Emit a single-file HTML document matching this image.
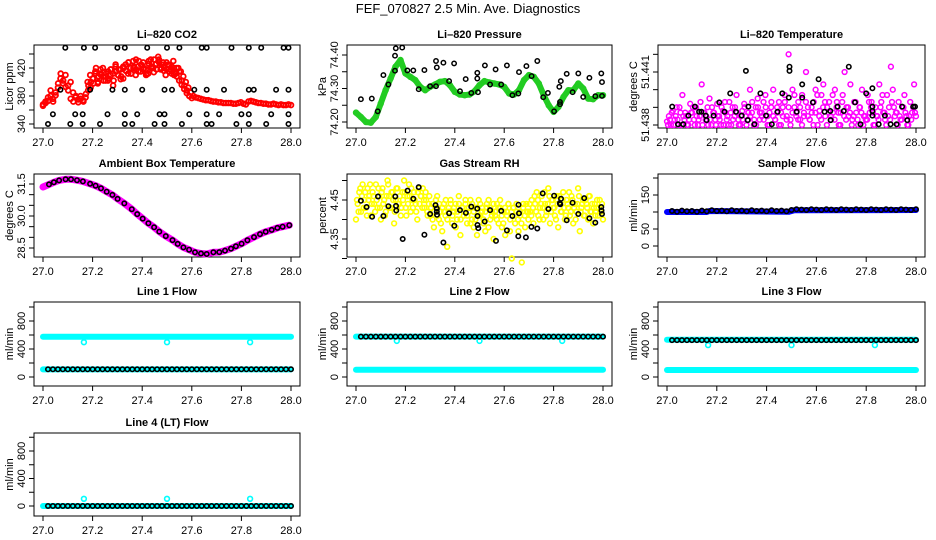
<!DOCTYPE html>
<html><head><meta charset="utf-8"><style>
html,body{margin:0;padding:0;background:#fff;}
svg{display:block;font-family:"Liberation Sans",Arial,sans-serif;}
</style></head><body>
<svg id="chart" width="936" height="540" viewBox="0 0 936 540">
<rect width="936" height="540" fill="#fff"/>
<text x="468" y="13" text-anchor="middle" font-size="13">FEF_070827  2.5 Min. Ave. Diagnostics</text>
</svg>
<script>
// ---------- DATA ----------
const xTickLabels = ["27.0","27.2","27.4","27.6","27.8","28.0"];
const xTicks = [27.0,27.2,27.4,27.6,27.8,28.0];

const co2Red = [368,370,373,380,376,385,392,405,398,410,395,400,385,378,375,380,374,378,388,392,405,412,400,418,408,402,415,410,395,422,410,418,405,425,412,420,430,410,422,415,428,418,412,432,420,425,436,418,428,410,425,418,430,412,420,415,408,400,392,385,380,378,377,376,375,374,374,373,372,372,371,371,370,370,370,370,369,369,370,371,369,368,372,373,372,371,370,370,369,369,368,368,369,368,367,368,367,367,368,367];
const co2Red2 = [366,372,378,388,372,381,398,412,402,393,388,376,372,380,371,376,372,383,395,400,398,420,408,410,402,412,405,418,402,415,418,408,420,416,428,412,422,418,430,424,420,412,426,420,432,418,428,425,420,418,415,422,410,420,402,396,390,384,380,377];
const co2Red3 = [400,410,405,415,398,412,420,408,402,418,412,425,410,404,422,416,428,412,420,432,415,425,418,410,430,422,414,426,432,420,416,428,424,412,420,408,415,402,395,388];
const co2BlackT = [27.09,27.165,27.21,27.30,27.33,27.42,27.50,27.55,27.64,27.66,27.76,27.83,27.88,27.97,27.99,
 27.07,27.19,27.28,27.33,27.40,27.49,27.52,27.61,27.66,27.73,27.83,27.85,27.94,27.99,
 27.04,27.13,27.16,27.26,27.33,27.38,27.47,27.49,27.59,27.66,27.71,27.80,27.83,27.92,27.99,
 27.02,27.11,27.16,27.23,27.33,27.36,27.45,27.49,27.56,27.66,27.68,27.78,27.83,27.90,27.99];
const co2BlackV = [449,449,449,449,449,449,449,449,449,449,449,449,449,449,449,
 389,389,389,389,389,389,389,389,389,389,389,389,389,389,
 354,354,354,354,354,354,354,354,354,354,354,354,354,354,354,
 340,340,340,340,340,340,340,340,340,340,340,340,340,340,340];

const presGreen = [74.228,74.215,74.200,74.198,74.215,74.255,74.295,74.330,74.365,74.385,74.345,74.335,74.325,74.305,74.295,74.305,74.312,74.320,74.322,74.310,74.290,74.282,74.280,74.282,74.292,74.310,74.322,74.318,74.315,74.312,74.305,74.285,74.282,74.295,74.325,74.340,74.335,74.315,74.280,74.250,74.230,74.245,74.275,74.295,74.295,74.315,74.300,74.270,74.268,74.280,74.280];
const presBlackT = [27.020,27.064,27.088,27.111,27.131,27.158,27.161,27.187,27.158,27.208,27.232,27.254,27.277,27.300,27.324,27.324,27.327,27.354,27.377,27.397,27.421,27.444,27.467,27.491,27.494,27.491,27.522,27.543,27.565,27.588,27.611,27.633,27.657,27.660,27.690,27.711,27.734,27.758,27.777,27.802,27.826,27.826,27.823,27.829,27.853,27.877,27.900,27.920,27.945,27.969,27.993,27.996,27.996];
const presBlackV = [74.268,74.270,74.232,74.340,74.312,74.353,74.420,74.422,74.398,74.354,74.354,74.298,74.355,74.307,74.307,74.382,74.363,74.377,74.322,74.375,74.292,74.328,74.287,74.330,74.289,74.347,74.369,74.312,74.357,74.312,74.369,74.280,74.285,74.349,74.367,74.337,74.382,74.274,74.287,74.232,74.260,74.253,74.305,74.322,74.344,74.289,74.345,74.275,74.332,74.277,74.345,74.278,74.319];

const tempPink = [51.4382,51.4385,51.4380,51.4388,51.4383,51.4390,51.4380,51.4387,51.4397,51.4383,
51.4385,51.4380,51.4392,51.4387,51.4383,51.4390,51.4380,51.4385,51.4403,51.4387,
51.4383,51.4390,51.4395,51.4380,51.4387,51.4383,51.4392,51.4385,51.4380,51.4388,
51.4393,51.4383,51.4380,51.4387,51.4390,51.4385,51.4397,51.4383,51.4380,51.4388,
51.4392,51.4385,51.4383,51.4400,51.4387,51.4380,51.4390,51.4395,51.4383,51.4387,
51.4393,51.4397,51.4385,51.4380,51.4390,51.4400,51.4383,51.4387,51.4393,51.4380,
51.4390,51.4397,51.4385,51.4420,51.4383,51.4400,51.4390,51.4387,51.4393,51.4383,
51.4397,51.4385,51.4410,51.4390,51.4383,51.4387,51.4393,51.4400,51.4380,51.4388,
51.4397,51.4403,51.4385,51.4390,51.4393,51.4383,51.4387,51.4400,51.4393,51.4380,
51.4387,51.4397,51.4410,51.4390,51.4385,51.4403,51.4383,51.4393,51.4387,51.4380,
51.4390,51.4400,51.4385,51.4383,51.4397,51.4387,51.4393,51.4380,51.4390,51.4385,
51.4403,51.4393,51.4387,51.4383,51.4397,51.4390,51.4413,51.4400,51.4385,51.4387,
51.4393,51.4383,51.4390,51.4397,51.4385,51.4380,51.4393,51.4387,51.4403,51.4385];
const tempPink2 = [51.4380,51.4383,51.4387,51.4380,51.4385,51.4383,51.4390,51.4380,51.4385,51.4387,
51.4380,51.4383,51.4387,51.4390,51.4380,51.4385,51.4383,51.4393,51.4380,51.4387,
51.4385,51.4380,51.4383,51.4390,51.4387,51.4380,51.4385,51.4383,51.4390,51.4380,
51.4387,51.4385,51.4393,51.4380,51.4383,51.4390,51.4387,51.4380,51.4385,51.4383,
51.4390,51.4380,51.4387,51.4385,51.4393,51.4383,51.4380,51.4390,51.4387,51.4385,
51.4383,51.4390,51.4380,51.4387,51.4393,51.4385,51.4383,51.4390,51.4380,51.4387,
51.4385,51.4393,51.4383,51.4390,51.4380,51.4387,51.4397,51.4385,51.4383,51.4390,
51.4380,51.4387,51.4393,51.4385,51.4383,51.4390,51.4380,51.4387,51.4397,51.4385,
51.4383,51.4390,51.4393,51.4380,51.4387,51.4385,51.4397,51.4383,51.4390,51.4387,
51.4380,51.4393,51.4385,51.4383,51.4390,51.4387,51.4380,51.4385,51.4393,51.4383,
51.4390,51.4387,51.4380,51.4385,51.4383,51.4393,51.4390,51.4387,51.4380,51.4385,
51.4383,51.4390,51.4397,51.4387,51.4380,51.4385,51.4383,51.4393,51.4390,51.4387,
51.4380,51.4385,51.4383,51.4390,51.4387,51.4380,51.4385,51.4383,51.4390,51.4387];
const tempBlackT = [27.021,27.044,27.065,27.086,27.112,27.129,27.138,27.156,27.159,27.187,27.210,27.231,27.254,27.277,27.300,27.317,27.324,27.327,27.351,27.375,27.398,27.421,27.444,27.463,27.492,27.492,27.489,27.521,27.543,27.543,27.586,27.609,27.633,27.656,27.657,27.685,27.710,27.730,27.755,27.777,27.800,27.825,27.825,27.825,27.825,27.850,27.875,27.898,27.922,27.944,27.965,27.989,27.996];
const tempBlackV = [51.43904,51.43804,51.43804,51.43853,51.43904,51.43875,51.43875,51.43853,51.43828,51.43853,51.43928,51.43875,51.43979,51.43875,51.43853,51.44106,51.43828,51.43904,51.43804,51.43979,51.43853,51.43804,51.43875,51.43979,51.44106,51.44130,51.43955,51.43875,51.43955,51.44030,51.43928,51.44059,51.43875,51.43879,51.43828,51.43904,51.43879,51.44130,51.43928,51.43804,51.43979,51.44008,51.43904,51.43879,51.43853,51.43804,51.43853,51.43804,51.43804,51.43904,51.43828,51.43904,51.43904];

const ambPinkT = [27.0,27.024,27.044,27.065,27.091,27.113,27.137,27.161,27.190,27.212,27.234,27.257,27.280,27.301,27.328,27.358,27.380,27.402,27.425,27.448,27.469,27.495,27.522,27.543,27.566,27.589,27.613,27.637,27.660,27.687,27.711,27.734,27.758,27.778,27.801,27.824,27.851,27.875,27.898,27.922,27.945,27.966,27.993];
const ambPinkV = [31.36,31.48,31.58,31.67,31.72,31.72,31.68,31.62,31.51,31.42,31.30,31.14,30.99,30.80,30.59,30.32,30.09,29.88,29.66,29.47,29.27,29.06,28.87,28.69,28.53,28.42,28.30,28.24,28.22,28.30,28.31,28.38,28.47,28.58,28.70,28.86,29.01,29.15,29.26,29.35,29.44,29.50,29.57];
const ambBlackT = [27.024,27.044,27.065,27.091,27.113,27.137,27.161,27.190,27.212,27.234,27.257,27.280,27.301,27.328,27.358,27.380,27.402,27.425,27.448,27.469,27.495,27.522,27.543,27.566,27.589,27.613,27.637,27.660,27.687,27.711,27.734,27.758,27.778,27.801,27.824,27.851,27.875,27.898,27.922,27.945,27.966,27.993];
const ambBlackV = [31.48,31.58,31.67,31.72,31.72,31.68,31.62,31.51,31.42,31.30,31.14,30.99,30.80,30.59,30.32,30.09,29.88,29.66,29.47,29.27,29.06,28.87,28.69,28.53,28.42,28.30,28.24,28.22,28.30,28.31,28.38,28.47,28.58,28.70,28.86,29.01,29.15,29.26,29.35,29.44,29.50,29.57];

const rhYellow = [4.40,4.44,4.47,4.42,4.49,4.45,4.43,4.48,4.46,4.41,
4.47,4.44,4.49,4.43,4.46,4.40,4.48,4.45,4.42,4.50,
4.46,4.43,4.47,4.39,4.45,4.48,4.44,4.41,4.47,4.50,
4.43,4.46,4.49,4.42,4.45,4.47,4.44,4.40,4.48,4.46,
4.43,4.45,4.47,4.42,4.44,
4.41,4.44,4.38,4.43,4.46,4.40,4.42,4.37,4.44,4.41,
4.33,4.43,4.45,4.39,4.42,4.44,4.40,4.46,4.36,4.43,
4.41,4.44,4.39,4.42,4.45,4.40,4.38,4.43,4.36,4.41,
4.44,4.42,4.39,4.37,4.43,4.45,4.40,4.42,4.35,4.41,
4.44,4.39,4.43,4.38,4.42,4.36,4.41,4.44,4.40,4.30,
4.43,4.39,4.42,4.37,4.41,4.29,4.44,4.38,4.42,4.40,
4.42,4.45,4.39,4.44,4.47,4.41,4.43,4.46,4.40,4.44,
4.42,4.48,4.39,4.45,4.43,4.41,4.46,4.38,4.44,4.42,
4.47,4.40,4.45,4.43,4.41,4.46,4.39,4.44,4.42,4.48,
4.37,4.43,4.45,4.41,4.44,4.40,4.46,4.42,4.39,4.44,
4.43,4.41,4.45,4.42,4.40];
const rhYellow2 = [4.45,4.42,4.48,4.46,4.43,4.47,4.41,4.45,4.49,4.44,
4.46,4.42,4.45,4.48,4.43,4.47,4.44,4.41,4.46,4.49,
4.43,4.47,4.45,4.42,4.48,4.44,4.46,4.43,4.45,4.47,
4.41,4.44,4.46,4.48,4.43,4.45,4.42,4.47,4.44,4.46,
4.48,4.43,4.45,4.41,4.46,
4.43,4.40,4.42,4.45,4.41,4.44,4.39,4.43,4.42,4.45,
4.40,4.42,4.44,4.41,4.43,4.38,4.42,4.44,4.40,4.43,
4.42,4.45,4.41,4.43,4.39,4.44,4.42,4.40,4.43,4.45,
4.41,4.43,4.40,4.42,4.44,4.38,4.43,4.41,4.44,4.42,
4.40,4.43,4.45,4.41,4.39,4.43,4.42,4.44,4.37,4.42,
4.43,4.41,4.44,4.40,4.42,4.39,4.43,4.41,4.44,4.42,
4.44,4.41,4.43,4.46,4.42,4.45,4.40,4.44,4.43,4.47,
4.41,4.44,4.46,4.42,4.45,4.43,4.40,4.44,4.46,4.42,
4.45,4.43,4.41,4.44,4.47,4.42,4.45,4.43,4.40,4.44,
4.46,4.42,4.44,4.41,4.45,4.43,4.46,4.42,4.44,4.43,
4.41,4.45,4.43,4.42,4.44];
const rhBlackT = [27.020,27.043,27.065,27.089,27.111,27.131,27.159,27.162,27.163,27.189,27.209,27.232,27.254,27.277,27.300,27.322,27.327,27.327,27.328,27.354,27.377,27.398,27.421,27.445,27.467,27.491,27.492,27.492,27.495,27.521,27.543,27.567,27.588,27.611,27.633,27.658,27.660,27.657,27.688,27.710,27.734,27.756,27.779,27.802,27.825,27.827,27.830,27.853,27.877,27.900,27.924,27.945,27.969,27.993,27.994,27.996];
const rhBlackV = [4.448,4.432,4.407,4.459,4.409,4.434,4.459,4.435,4.423,4.350,4.474,4.453,4.483,4.361,4.414,4.437,4.428,4.420,4.412,4.341,4.416,4.384,4.424,4.417,4.433,4.428,4.409,4.386,4.378,4.395,4.424,4.345,4.422,4.372,4.409,4.438,4.416,4.357,4.354,4.381,4.377,4.467,4.427,4.461,4.442,4.439,4.453,4.398,4.443,4.414,4.455,4.403,4.392,4.432,4.423,4.414];

const flowT = [27.02,27.04,27.06,27.08,27.10,27.12,27.14,27.16,27.18,27.20,27.22,27.24,27.26,27.28,27.30,27.32,27.34,27.36,27.38,27.40,27.42,27.44,27.46,27.48,27.50,27.52,27.54,27.56,27.58,27.60,27.62,27.64,27.66,27.68,27.70,27.72,27.74,27.76,27.78,27.80,27.82,27.84,27.86,27.88,27.90,27.92,27.94,27.96,27.98,28.00];
const sampleBlack = [103,101,104,102,103,101,104,102,105,103,104,102,105,103,104,102,105,103,104,102,105,103,104,102,106,108,107,106,108,107,106,108,107,106,108,107,106,108,107,106,108,107,106,108,107,106,108,107,106,108];
const sampleBlueT = [27.0,27.16,27.17,27.49,27.51,28.0];
const sampleBlueV = [100,100,103,101,105,106];

const line1Black = [110,110,110,110,110,110,110,110,110,110,110,110,110,110,110,110,110,110,110,110,110,110,110,110,110,110,110,110,110,110,110,110,110,110,110,110,110,110,110,110,110,110,110,110,110,110,110,110,110,110];
const line2Black = [577,577,577,577,577,577,577,577,577,577,577,577,577,577,577,577,577,577,577,577,577,577,577,577,577,577,577,577,577,577,577,577,577,577,577,577,577,577,577,577,577,577,577,577,577,577,577,577,577,577];
const line3Black = [527,527,527,527,527,527,527,527,527,527,527,527,527,527,527,527,527,527,527,527,527,527,527,527,527,527,527,527,527,527,527,527,527,527,527,527,527,527,527,527,527,527,527,527,527,527,527,527,527,527];
const line4Black = [0,0,0,0,0,0,0,0,0,0,0,0,0,0,0,0,0,0,0,0,0,0,0,0,0,0,0,0,0,0,0,0,0,0,0,0,0,0,0,0,0,0,0,0,0,0,0,0,0,0];
const bandT = [27.0,28.0];
const line1High = [575,575], line1Low = [108,108];
const line2High = [577,577], line2Low = [103,103];
const line3High = [532,532], line3Low = [100,100];
const line4Band = [0,0];
const dipT = [27.165,27.5,27.835];
const line1Dip = [497,497,497];
const line2Dip = [515,515,515];
const line3Dip = [455,455,455];
const line4Dip = [105,105,105];

// ---------- LAYOUT ----------
const panels = [
 {key:'co2',title:'Li\u2013820 CO2',ylab:'Licor ppm',L:34,R:300,T:45,B:128,v1:340,p1:124,v2:420,p2:68,ticks:[340,360,380,400,420,440],labels:{0:'340',2:'380',4:'420'}},
 {key:'pressure',title:'Li\u2013820 Pressure',ylab:'kPa',L:347,R:612,T:45,B:128,v1:74.20,p1:122,v2:74.40,p2:55,ticks:[74.20,74.25,74.30,74.35,74.40],labels:{0:'74.20',2:'74.30',4:'74.40'}},
 {key:'temperature',title:'Li\u2013820 Temperature',ylab:'degrees C',L:658,R:925,T:45,B:128,v1:51.438,p1:125,v2:51.441,p2:72,ticks:[51.438,51.439,51.440,51.441,51.442],labels:{0:'51.438',3:'51.441'}},
 {key:'ambient',title:'Ambient Box Temperature',ylab:'degrees C',L:34,R:300,T:174,B:257,v1:28.5,p1:248,v2:31.5,p2:184,ticks:[28.5,29.0,29.5,30.0,30.5,31.0,31.5],labels:{0:'28.5',3:'30.0',6:'31.5'}},
 {key:'rh',title:'Gas Stream RH',ylab:'percent',L:347,R:612,T:174,B:257,v1:4.35,p1:239,v2:4.45,p2:200,ticks:[4.30,4.35,4.40,4.45,4.50],labels:{1:'4.35',3:'4.45'}},
 {key:'sample',title:'Sample Flow',ylab:'ml/min',L:658,R:925,T:174,B:257,v1:0,p1:246,v2:150,p2:195,ticks:[0,50,100,150,200],labels:{0:'0',1:'50',3:'150'}},
 {key:'line1',title:'Line 1 Flow',ylab:'ml/min',L:34,R:300,T:302,B:386,v1:0,p1:377,v2:800,p2:321,ticks:[0,200,400,600,800,1000],labels:{0:'0',2:'400',4:'800'}},
 {key:'line2',title:'Line 2 Flow',ylab:'ml/min',L:347,R:612,T:302,B:386,v1:0,p1:377,v2:800,p2:321,ticks:[0,200,400,600,800,1000],labels:{0:'0',2:'400',4:'800'}},
 {key:'line3',title:'Line 3 Flow',ylab:'ml/min',L:658,R:925,T:302,B:386,v1:0,p1:377,v2:800,p2:321,ticks:[0,200,400,600,800,1000],labels:{0:'0',2:'400',4:'800'}},
 {key:'line4',title:'Line 4 (LT) Flow',ylab:'ml/min',L:34,R:300,T:433,B:516,v1:0,p1:506,v2:800,p2:451,ticks:[0,200,400,600,800,1000],labels:{0:'0',2:'400',4:'800'}}
];

const NS='http://www.w3.org/2000/svg';
const svg=document.getElementById('chart');
function mk(tag,attrs,parent){const e=document.createElementNS(NS,tag);for(const k in attrs)e.setAttribute(k,attrs[k]);(parent||svg).appendChild(e);return e;}

function setup(p){
  p.xs=t=>p.L+9+(t-27)*(p.R-p.L-18);
  p.ys=v=>p.p1+(v-p.v1)*(p.p2-p.p1)/(p.v2-p.v1);
  const g=mk('g',{});
  
  
  p.g=g;
  const box=mk('rect',{x:p.L,y:p.T,width:p.R-p.L,height:p.B-p.T,fill:'none',stroke:'#000','stroke-width':1},g);
  
  
  const title=mk('text',{x:(p.L+p.R)/2,y:p.T-7,'text-anchor':'middle','font-size':11,'font-weight':'bold'},g);
  title.textContent=p.title;
  
  
  xTicks.forEach((t,i)=>{
    const x=p.xs(t);
    const tk=mk('line',{x1:x,x2:x,y1:p.B,y2:p.B+5,stroke:'#000'},g);
    
    
    const lb=mk('text',{x:x,y:p.B+18,'text-anchor':'middle','font-size':11},g);
    lb.textContent=xTickLabels[i];
    
    
  });
  p.ticks.forEach((v,i)=>{
    const y=p.ys(v);
    const tk=mk('line',{x1:p.L-5,x2:p.L,y1:y,y2:y,stroke:'#000'},g);
    
    
    const txt=p.labels[i];
    if(txt){
      const lb=mk('text',{x:0,y:0,'text-anchor':'middle','font-size':11,transform:`translate(${p.L-9},${y}) rotate(-90)`},g);
      lb.textContent=txt;
      
      
    }
  });
  const yt=mk('text',{x:0,y:0,'text-anchor':'middle','font-size':11,transform:`translate(${p.L-21},${(p.T+p.B)/2}) rotate(-90)`},g);
  yt.textContent=p.ylab;
  
  
}
// ts: explicit times, or null to spread evenly over [t0,t1]
function dots(p,ts,vs,color,r,sw,name,t0,t1){
  if(t0===undefined){t0=27;t1=28;}
  const g=mk('g',{fill:'none',stroke:color,'stroke-width':sw},p.g);
  
  
  for(let i=0;i<vs.length;i++){
    const t=ts?ts[i]:t0+i*(t1-t0)/(vs.length-1);
    const c=mk('circle',{cx:p.xs(t).toFixed(1),cy:p.ys(vs[i]).toFixed(1),r:r},g);
    
    
  }
}
function band(p,ts,vs,color,w,name){
  const pts=vs.map((v,i)=>{const t=ts?ts[i]:27+i/(vs.length-1);return p.xs(t).toFixed(1)+','+p.ys(v).toFixed(1);}).join(' ');
  const pl=mk('polyline',{points:pts,fill:'none',stroke:color,'stroke-width':w,'stroke-linejoin':'round','stroke-linecap':'round'},p.g);
  
  
}
panels.forEach(setup);
const P={};panels.forEach(p=>P[p.key]=p);

// CO2
dots(P.co2,null,co2Red,'#ff0000',2.4,1.8,'co2-series');
dots(P.co2,null,co2Red2,'#ff0000',2.4,1.8,'co2-series-b',27.0,27.6);
dots(P.co2,null,co2Red3,'#ff0000',2.4,1.8,'co2-series-c',27.18,27.58);
dots(P.co2,co2BlackT,co2BlackV,'#000',2.2,1.6,'co2-avg-series');
// Pressure
band(P.pressure,null,presGreen,'#22cc22',6,'pressure-band');
dots(P.pressure,null,presGreen,'#22cc22',2.4,1.6,'pressure-series');
dots(P.pressure,presBlackT,presBlackV,'#000',2.2,1.5,'pressure-avg-series');
// Temperature
dots(P.temperature,null,tempPink,'#ff00ff',2.4,1.5,'temperature-series');
dots(P.temperature,null,tempPink2,'#ff00ff',2.4,1.5,'temperature-series-b',27.004,27.996);
dots(P.temperature,tempBlackT,tempBlackV,'#000',2.2,1.6,'temperature-avg-series');
// Ambient
band(P.ambient,ambPinkT,ambPinkV,'#ff00ff',7,'ambient-series');
dots(P.ambient,ambBlackT,ambBlackV,'#000',2.2,1.6,'ambient-avg-series');
// RH
dots(P.rh,null,rhYellow,'#ffff00',2.4,1.6,'rh-series');
dots(P.rh,null,rhYellow2,'#ffff00',2.4,1.6,'rh-series-b',27.004,27.996);
dots(P.rh,rhBlackT,rhBlackV,'#000',2.2,1.6,'rh-avg-series');
// Sample
band(P.sample,sampleBlueT,sampleBlueV,'#0000ff',6,'sample-flow-series');
dots(P.sample,flowT,sampleBlack,'#000',2.2,1.6,'sample-flow-avg-series');
// Lines
band(P.line1,bandT,line1High,'#00ffff',6,'line1-high-series');
band(P.line1,bandT,line1Low,'#00ffff',6,'line1-low-series');
dots(P.line1,dipT,line1Dip,'#00ffff',2.4,1.6,'line1-dips');
dots(P.line1,flowT,line1Black,'#000',2.2,1.6,'line1-avg-series');
band(P.line2,bandT,line2High,'#00ffff',6,'line2-high-series');
band(P.line2,bandT,line2Low,'#00ffff',6,'line2-low-series');
dots(P.line2,dipT,line2Dip,'#00ffff',2.4,1.6,'line2-dips');
dots(P.line2,flowT,line2Black,'#000',2.2,1.6,'line2-avg-series');
band(P.line3,bandT,line3High,'#00ffff',6,'line3-high-series');
band(P.line3,bandT,line3Low,'#00ffff',6,'line3-low-series');
dots(P.line3,dipT,line3Dip,'#00ffff',2.4,1.6,'line3-dips');
dots(P.line3,flowT,line3Black,'#000',2.2,1.6,'line3-avg-series');
band(P.line4,bandT,line4Band,'#00ffff',6,'line4-series');
dots(P.line4,dipT,line4Dip,'#00ffff',2.4,1.6,'line4-dips');
dots(P.line4,flowT,line4Black,'#000',2.2,1.6,'line4-avg-series');
</script>
</body></html>
